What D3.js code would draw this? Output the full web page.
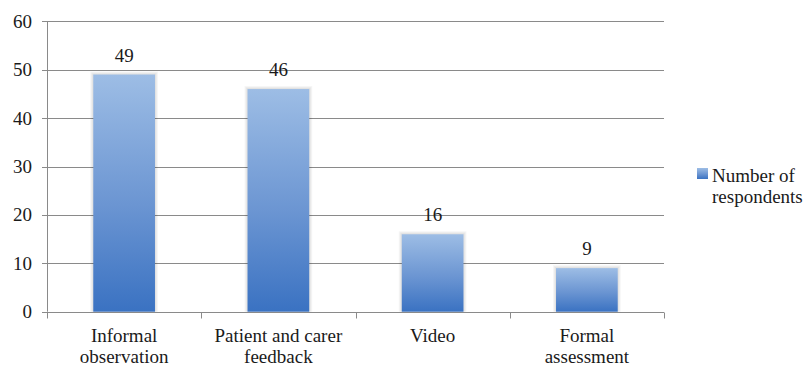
<!DOCTYPE html>
<html>
<head>
<meta charset="utf-8">
<script src="https://cdn.jsdelivr.net/npm/d3@7"></script>
<style>
  html, body { margin: 0; padding: 0; background: #fff; font-family: 'Liberation Serif', 'Times New Roman', Tinos; }
</style>
</head>
<body>
<svg id="chart" width="812" height="369"></svg>
<script>
// Survey results: how practitioners assess outcomes
const categories = [["Informal", "observation"], ["Patient and carer", "feedback"], ["Video"], ["Formal", "assessment"]];
const respondents = [49, 46, 16, 9];
const yTicks = [0, 10, 20, 30, 40, 50, 60];
const seriesName = ["Number of", "respondents"];

const FONT = "Liberation Serif";
const FS = 19;
const svg = d3.select("#chart");
const margin = { left: 47, right: 148, top: 21.3, bottom: 57.3 };
const W = 812, H = 369;
const plotW = W - margin.left - margin.right;
const plotH = H - margin.top - margin.bottom;

const x = d3.scaleBand().domain(d3.range(categories.length))
  .range([margin.left, margin.left + plotW]).padding(0);
const y = d3.scaleLinear().domain([0, 60]).range([margin.top + plotH, margin.top]);
const cx = i => x(i) + x.bandwidth() / 2;

const defs = svg.append("defs");
const grad = defs.append("linearGradient").attr("id", "barFill")
  .attr("x1", 0).attr("y1", 0).attr("x2", 0).attr("y2", 1);
grad.append("stop").attr("offset", "0%").attr("stop-color", "#9dbde5");
grad.append("stop").attr("offset", "55%").attr("stop-color", "#6b95d2");
grad.append("stop").attr("offset", "100%").attr("stop-color", "#3a72c2");

const grey = "#8a8a8a";
const x0 = margin.left, x1 = margin.left + plotW, yBase = Math.round(y(0)) + 0.5;

// horizontal gridlines
svg.append("g").selectAll("line").data(yTicks.filter(d => d > 0)).join("line")
  .attr("x1", x0).attr("x2", x1)
  .attr("y1", d => Math.round(y(d)) + 0.5).attr("y2", d => Math.round(y(d)) + 0.5)
  .attr("stroke", grey);

// y axis line and ticks
svg.append("line").attr("x1", x0 + 0.5).attr("x2", x0 + 0.5)
  .attr("y1", y(60)).attr("y2", y(0)).attr("stroke", grey);
svg.append("g").selectAll("line").data(yTicks).join("line")
  .attr("x1", x0 - 5).attr("x2", x0)
  .attr("y1", d => Math.round(y(d)) + 0.5).attr("y2", d => Math.round(y(d)) + 0.5)
  .attr("stroke", grey);

// x axis with category boundary ticks
svg.append("line").attr("x1", x0).attr("x2", x1).attr("y1", yBase).attr("y2", yBase).attr("stroke", grey);
svg.append("g").selectAll("line").data(d3.range(categories.length + 1)).join("line")
  .attr("x1", i => Math.round(x0 + i * x.step()) + 0.5).attr("x2", i => Math.round(x0 + i * x.step()) + 0.5)
  .attr("y1", yBase).attr("y2", yBase + 6).attr("stroke", grey);

// bars with a soft halo drawn underneath
const barW = x.bandwidth() * 0.4;
const barsG = svg.append("g");
[3, 2, 1].forEach(k => {
  barsG.append("g").selectAll("rect").data(respondents).join("rect")
    .attr("x", (d, i) => cx(i) - barW / 2 - k)
    .attr("y", d => y(d) - k)
    .attr("width", barW + 2 * k)
    .attr("height", d => y(0) - y(d) + k)
    .attr("fill", "#000").attr("fill-opacity", 0.04);
});
barsG.append("g").selectAll("rect").data(respondents).join("rect")
  .attr("x", (d, i) => cx(i) - barW / 2)
  .attr("y", d => y(d))
  .attr("width", barW)
  .attr("height", d => y(0) - y(d))
  .attr("fill", "url(#barFill)");

function label(sel) {
  return sel.attr("font-family", FONT).attr("font-size", FS).attr("fill", "#1a1a1a");
}

// y tick labels
label(svg.append("g").selectAll("text").data(yTicks).join("text"))
  .attr("x", x0 - 15).attr("y", d => y(d) + 6.5)
  .attr("text-anchor", "end")
  .text(d => d);

// category labels
categories.forEach((lines, i) => {
  const t = label(svg.append("text")).attr("text-anchor", "middle");
  lines.forEach((s, k) => t.append("tspan").attr("x", cx(i)).attr("y", y(0) + 30 + k * 21).text(s));
});

// value labels
label(svg.append("g").selectAll("text").data(respondents).join("text"))
  .attr("text-anchor", "middle")
  .attr("x", (d, i) => cx(i)).attr("y", d => y(d) - 13)
  .text(d => d);

// legend
const lgX = 697, lgY = 168;
svg.append("rect").attr("x", lgX).attr("y", lgY).attr("width", 11).attr("height", 11).attr("fill", "url(#barFill)");
const lt = label(svg.append("text"));
seriesName.forEach((s, k) => lt.append("tspan").attr("x", lgX + 15).attr("y", lgY + 14 + k * 21).text(s));
</script>
</body>
</html>
